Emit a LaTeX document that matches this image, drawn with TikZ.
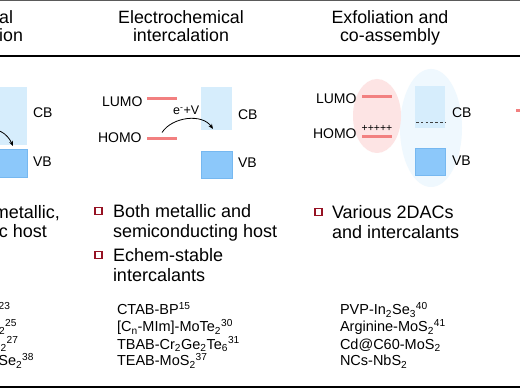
\documentclass[tikz,border=0pt]{standalone}
\usepackage{fontspec}
\setmainfont{Liberation Sans}
\usetikzlibrary{arrows.meta}
\definecolor{cbblue}{RGB}{214,237,252}
\definecolor{vbblue}{RGB}{140,200,250}
\definecolor{vbedge}{RGB}{118,184,240}
\definecolor{orbpink}{RGB}{242,128,128}
\definecolor{pinkell}{RGB}{253,228,228}
\definecolor{blueell}{RGB}{239,248,254}
\definecolor{bulletred}{RGB}{150,18,35}
\definecolor{topgray}{RGB}{90,90,90}
\begin{document}
\begin{tikzpicture}[x=1pt,y=-1pt,
  hdr/.style={font=\fontsize{17.8}{18}\selectfont, inner sep=0, outer sep=0, anchor=base},
  lbl/.style={font=\fontsize{14}{14}\selectfont, inner sep=0, outer sep=0, anchor=base west},
  bul/.style={font=\fontsize{18}{20}\selectfont, inner sep=0, outer sep=0, anchor=base west},
  lst/.style={font=\fontsize{14.5}{17}\selectfont, inner sep=0, outer sep=0, anchor=base west},
  cbbox/.style={fill=cbblue, draw=none, inner sep=0, outer sep=0, anchor=north west},
  vbbox/.style={fill=vbblue, draw=vbedge, line width=0.6, inner sep=0, outer sep=0, anchor=north west},
  orb/.style={fill=orbpink, draw=none, minimum width=30, minimum height=3, inner sep=0, outer sep=0, anchor=west},
  sq/.style={draw=bulletred, line width=1.8, fill=white, minimum size=7, inner sep=0, outer sep=0},
  arr/.style={line width=0.8, -{Stealth[length=5pt,width=4pt]}}
]
\useasboundingbox (0,0) rectangle (520,390);
\clip (0,0) rectangle (520,390);
\fill[white] (0,0) rectangle (520,390);

% rules
\coordinate (tl) at (0,0.7); \coordinate (tr) at (520,0.7);
\draw[topgray, line width=1.5] (tl) -- (tr);
\coordinate (hl) at (0,56); \coordinate (hr) at (520,56);
\draw[black, line width=1.3] (hl) -- (hr);
\coordinate (bl) at (0,386.8); \coordinate (br) at (520,386.8);
\draw[black, line width=2.4] (bl) -- (br);

% headers
\node[hdr, anchor=base east] (h1a) at (13,24) {al};
\node[hdr, anchor=base east] (h1b) at (23,42) {ion};
\node[hdr] (h2a) at (181,24) {Electrochemical};
\node[hdr] (h2b) at (181,42) {intercalation};
\node[hdr] (h3a) at (390,24) {Exfoliation and};
\node[hdr] (h3b) at (390,42) {co-assembly};

% column 1 (partial)
\node[cbbox, minimum width=37, minimum height=58] (cb1) at (-10,87) {};
\node[vbbox, minimum width=37, minimum height=28] (vb1) at (-10,149) {};
\node[lbl] (cbl1) at (33,118) {CB};
\node[lbl] (vbl1) at (33,167) {VB};
\coordinate (a1s) at (-38,150);
\coordinate (a1e) at (13,146);
\draw[arr] (a1s) .. controls (-28,125) and (2,122) .. (a1e);
\node[bul, anchor=base east] (t1a) at (60,219) {metallic,};
\node[bul, anchor=base east] (t1b) at (47,238) {c host};
\node[lst, anchor=base east] (l1a) at (10.5,315) {\textsuperscript{23}};
\node[lst, anchor=base east] (l1b) at (17,332) {\textsubscript{2}\textsuperscript{25}};
\node[lst, anchor=base east] (l1c) at (18.5,349) {S\textsubscript{2}\textsuperscript{27}};
\node[lst, anchor=base east] (l1d) at (34,366) {Se\textsubscript{2}\textsuperscript{38}};

% column 2
\node[lbl] (lumol2) at (102,107) {LUMO};
\node[lbl] (homol2) at (98,143) {HOMO};
\node[orb] (lumo2) at (147,99) {};
\node[orb] (homo2) at (147,139) {};
\node[cbbox, minimum width=31, minimum height=43] (cb2) at (201,87) {};
\node[vbbox, minimum width=31, minimum height=27] (vb2) at (201,151) {};
\node[lbl] (cbl2) at (238,120) {CB};
\node[lbl] (vbl2) at (238,168) {VB};
\coordinate (a2s) at ([yshift=5pt]homo2.north);
\coordinate (a2e) at (213,129);
\draw[arr] (a2s) .. controls (172,117) and (202,113) .. (a2e);
\node[font=\fontsize{12.5}{13}\selectfont, inner sep=0, anchor=base west] (ev) at (173,115) {e\textsuperscript{-}+V};

\node[sq] (b2a) at (98.5,211) {};
\node[bul] (t2a) at (113,218) {Both metallic and};
\node[bul] (t2b) at (113,238) {semiconducting host};
\node[sq] (b2b) at (98.5,255) {};
\node[bul] (t2c) at (113,262) {Echem-stable};
\node[bul] (t2d) at (113,282) {intercalants};

\node[lst] (l2a) at (117,315) {CTAB-BP\textsuperscript{15}};
\node[lst] (l2b) at (117,332) {[C\textsubscript{n}-MIm]-MoTe\textsubscript{2}\textsuperscript{30}};
\node[lst] (l2c) at (117,349) {TBAB-Cr\textsubscript{2}Ge\textsubscript{2}Te\textsubscript{6}\textsuperscript{31}};
\node[lst] (l2d) at (117,366) {TEAB-MoS\textsubscript{2}\textsuperscript{37}};

% column 3
\fill[blueell] (431,128) ellipse [x radius=31, y radius=59];
\fill[pinkell] (377,116) ellipse [x radius=24, y radius=37];
\node[cbbox, minimum width=30, minimum height=42] (cb3) at (415,86) {};
\node[vbbox, minimum width=30, minimum height=27] (vb3) at (415,148) {};
\coordinate (dl) at (416,122.5); \coordinate (dr) at (445,122.5);
\draw[black!75, line width=0.7, dash pattern=on 2.6pt off 2.2pt] (dl) -- (dr);
\node[lbl] (lumol3) at (316,104) {LUMO};
\node[lbl] (homol3) at (313,139) {HOMO};
\node[orb] (lumo3) at (362,97) {};
\node[orb] (homo3) at (362,137) {};
\node[font=\fontsize{10.5}{11}\selectfont, inner sep=0, anchor=base] (plus) at (377,132) {+++++};
\node[lbl] (cbl3) at (452,118) {CB};
\node[lbl] (vbl3) at (452,166) {VB};

\node[sq] (b3a) at (318.3,212) {};
\node[bul] (t3a) at (332,219) {Various 2DACs};
\node[bul] (t3b) at (332,239) {and intercalants};

\node[lst] (l3a) at (340,315) {PVP-In\textsubscript{2}Se\textsubscript{3}\textsuperscript{40}};
\node[lst] (l3b) at (340,332) {Arginine-MoS\textsubscript{2}\textsuperscript{41}};
\node[lst] (l3c) at (340,349) {Cd@C60-MoS\textsubscript{2}};
\node[lst] (l3d) at (340,366) {NCs-NbS\textsubscript{2}};

% column 4 (partial)
\node[orb] (lumo4) at (516,111) {};
\end{tikzpicture}
\end{document}
